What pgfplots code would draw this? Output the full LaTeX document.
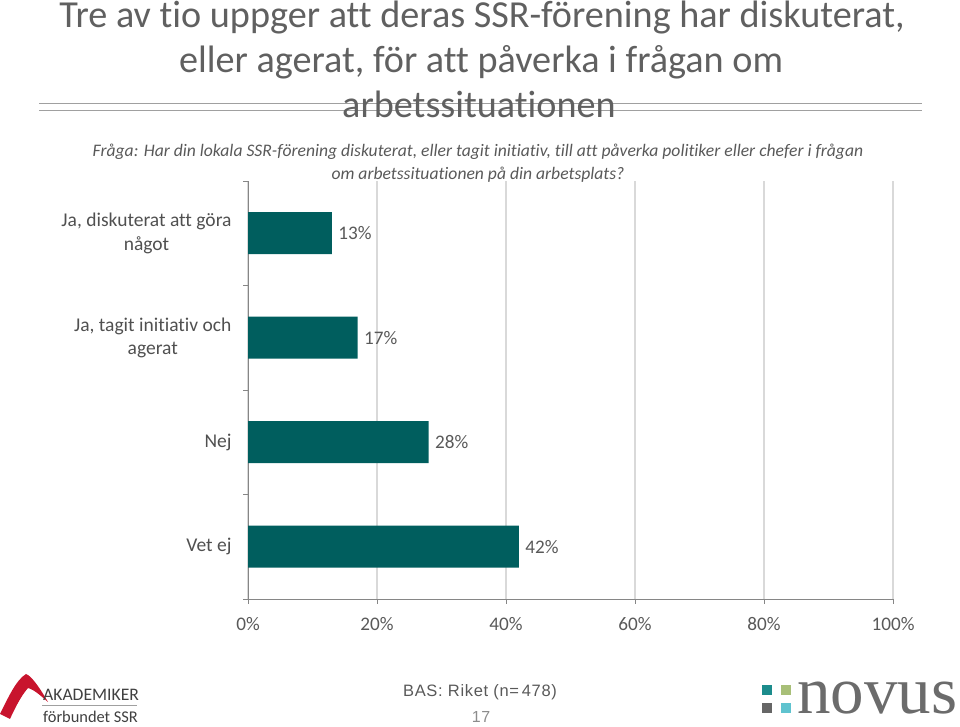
\documentclass[border=0pt]{standalone}
\usepackage{pgfplots}
\pgfplotsset{compat=1.18}
\usepackage{fontspec}
\setmainfont{Carlito}[Ligatures=NoCommon]
\newfontfamily\novusfont{Liberation Serif}
\newfontfamily\arialfont{Liberation Sans}[LetterSpace=4]
\definecolor{titlegray}{RGB}{89,89,89}
\definecolor{labelgray}{RGB}{80,80,80}
\definecolor{axisgray}{RGB}{134,134,134}
\definecolor{gridgray}{RGB}{217,217,217}
\definecolor{barteal}{RGB}{0,94,94}
\definecolor{rulegray}{RGB}{160,160,160}
\definecolor{ssrred}{RGB}{200,20,45}
\definecolor{nteal}{RGB}{28,140,140}
\definecolor{nolive}{RGB}{168,191,120}
\definecolor{ngray}{RGB}{102,102,102}
\definecolor{ncyan}{RGB}{95,195,207}
\begin{document}
\begin{tikzpicture}
\begin{scope}[x=1bp,y=1bp]
\path[use as bounding box] (0,0) rectangle (960,727);
% title rules
\draw[line width=1.8bp, rulegray] (39,727-103.5) -- (922,727-103.5);
\draw[line width=1.8bp, rulegray] (39,727-110.5) -- (922,727-110.5);
% title
\node[anchor=base, font=\fontsize{38.2bp}{42bp}\selectfont, text={rgb,255:red,96;green,96;blue,96}, inner sep=0pt] at (482,727-28) {Tre av tio uppger att deras SSR-förening har diskuterat,};
\node[anchor=base, font=\fontsize{38.2bp}{42bp}\selectfont, text={rgb,255:red,96;green,96;blue,96}, inner sep=0pt] at (481,727-73) {eller agerat, för att påverka i frågan om};
\node[anchor=base, font=\fontsize{38.2bp}{42bp}\selectfont, text={rgb,255:red,96;green,96;blue,96}, inner sep=0pt] at (479,727-118) {arbetssituationen};
% subtitle
\node[anchor=base, font=\fontsize{17.6bp}{18bp}\selectfont\itshape, text=titlegray, inner sep=0pt] at (478,727-157) {Fråga: Har din lokala SSR-förening diskuterat, eller tagit initiativ, till att påverka politiker eller chefer i frågan};
\node[anchor=base, font=\fontsize{17.6bp}{18bp}\selectfont\itshape, text=titlegray, inner sep=0pt] at (478,727-180) {om arbetssituationen på din arbetsplats?};
% footer
\node[anchor=base, font=\arialfont\fontsize{16.5bp}{18bp}\selectfont, text=titlegray, inner sep=0pt] at (480,727-697) {BAS:\ Riket (n=\,478)};
\node[anchor=base, font=\arialfont\fontsize{16bp}{18bp}\selectfont, text={rgb,255:red,140;green,140;blue,140}, inner sep=0pt] at (481,727-723) {17};
% Akademikerförbundet SSR logo
\fill[ssrred] (0,727-714) .. controls (8,727-698) and (16,727-680) .. (26,727-674)
  .. controls (32,727-676) and (41,727-690) .. (48,727-702)
  .. controls (42,727-697) and (35,727-690) .. (28,727-688)
  .. controls (21,727-696) and (15,727-708) .. (10,727-719) -- cycle;
\node[anchor=base west, font=\fontsize{17.6bp}{18bp}\selectfont, text={rgb,255:red,64;green,64;blue,64}, inner sep=0pt] at (43,727-701) {AKADEMIKER};
\draw[line width=0.8bp, rulegray] (42,727-705.5) -- (137,727-705.5);
\node[anchor=base west, font=\fontsize{16.4bp}{18bp}\selectfont, text={rgb,255:red,64;green,64;blue,64}, inner sep=0pt] at (43,727-723) {förbundet SSR};
% Novus logo
\fill[nteal] (762,727-685) rectangle (772,727-695);
\fill[nolive] (781,727-685) rectangle (791,727-695);
\fill[ngray] (762,727-703) rectangle (772,727-713);
\fill[ncyan] (781,727-703) rectangle (791,727-713);
\node[anchor=base west, font=\novusfont\fontsize{67bp}{70bp}\selectfont, text={rgb,255:red,107;green,107;blue,107}, inner sep=0pt] at (797,727-714) {novus};
\end{scope}
% chart
\begin{axis}[
  at={(248bp,128bp)}, anchor=south west,
  width=645bp, height=418bp, scale only axis,
  xbar, bar width=42bp,
  xmin=0, xmax=100, ymin=-0.5, ymax=3.5,
  axis x line*=bottom, axis y line*=left,
  axis line style={-, color=axisgray, line width=0.9bp},
  xtick={0,20,40,60,80,100},
  xticklabel={\pgfmathprintnumber{\tick}\%},
  /pgf/number format/assume math mode=true,
  xticklabel style={font=\fontsize{19.2bp}{22bp}\selectfont, text=titlegray, yshift=-10bp},
  ytick={-0.5,0.5,1.5,2.5,3.5},
  yticklabels={},
  extra y ticks={0,1,2,3},
  extra y tick labels={Vet ej, Nej, {Ja, tagit initiativ och\\agerat}, {Ja, diskuterat att göra\\något}},
  extra y tick style={major tick length=0pt, yticklabel style={font=\fontsize{19.5bp}{23.5bp}\selectfont, text=labelgray, align=center, xshift=-13bp}},
  major tick length=5bp, tick align=outside,
  tick style={color=axisgray, line width=0.9bp},
  xmajorgrids, grid style={color=gridgray, line width=1.2bp},
  nodes near coords={\pgfmathprintnumber{\pgfplotspointmeta}\%},
  nodes near coords style={font=\fontsize{19.2bp}{22bp}\selectfont, text=titlegray, anchor=west, xshift=3bp},
  point meta=x,
  clip=false,
]
\addplot[fill=barteal, draw=none] coordinates {(42,0) (28,1) (17,2) (13,3)};
\end{axis}
\end{tikzpicture}
\end{document}
